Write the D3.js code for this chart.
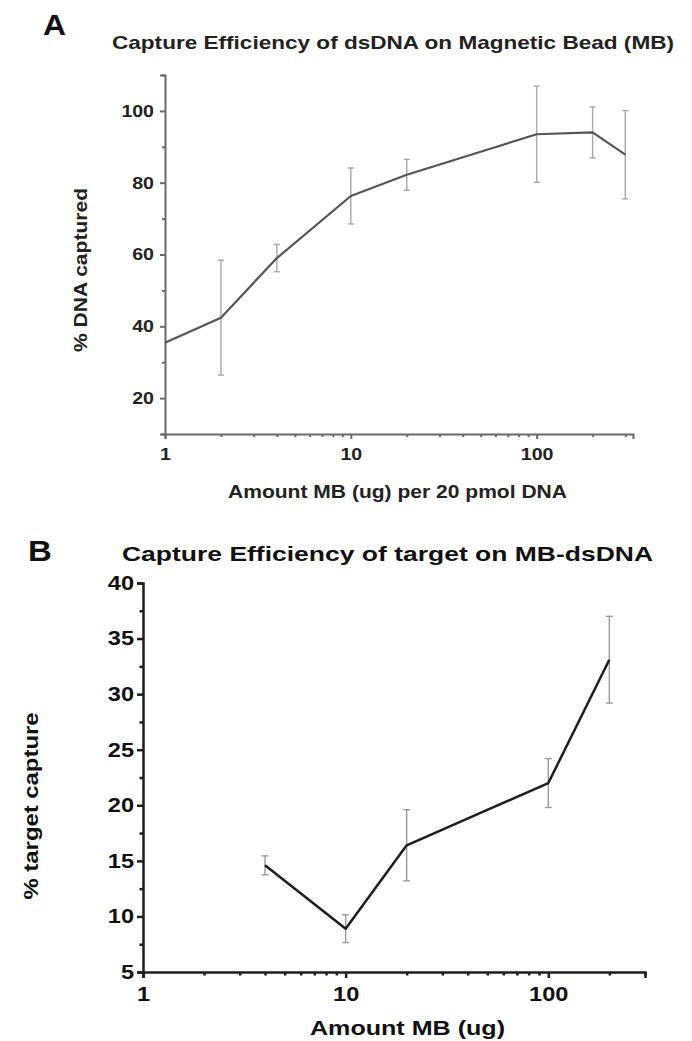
<!DOCTYPE html>
<html>
<head>
<meta charset="utf-8">
<script src="https://cdn.jsdelivr.net/npm/d3@7"></script>
<style>
    body { margin: 0; background: #fff; }
    svg { display: block; font-family: "Liberation Sans", Arial, sans-serif; font-weight: bold; }
</style>
</head>
<body>
<div class="container"></div>
<script>
// panel A: capture of dsDNA on magnetic beads
const A_X = [1, 2, 4, 10, 20, 100, 200, 300];
const A_Y = [35.4, 42.4, 59.0, 76.3, 82.2, 93.5, 94.0, 87.8];
const A_ERR = [0, 16.0, 3.8, 7.8, 4.3, 13.4, 7.1, 12.3];
const A_YTICKS = [20, 40, 60, 80, 100];
const A_YMINOR = [10, 30, 50, 70, 90, 110];
const A_XTICKS = [1, 10, 100];

// panel B: capture of target on MB-dsDNA
const B_X = [4, 10, 20, 100, 200];
const B_Y = [14.6, 8.9, 16.4, 22.0, 33.1];
const B_ERR = [0.85, 1.25, 3.2, 2.2, 3.9];
const B_YTICKS = [5, 10, 15, 20, 25, 30, 35, 40];
const B_YMINOR = [7.5, 12.5, 17.5, 22.5, 27.5, 32.5, 37.5];
const B_XTICKS = [1, 10, 100];

const X_MINOR = [2, 3, 4, 5, 6, 7, 8, 9, 20, 30, 40, 50, 60, 70, 80, 90, 200, 300];

const WIDTH = 692;
const HEIGHT = 1041;

const svg = d3.select('.container').append('svg')
    .attr('width', WIDTH)
    .attr('height', HEIGHT);

// widen text horizontally, the source figure is a bit stretched
const stretch = function (sel, k) {
    sel.each(function () {
        let w = this.getComputedTextLength();
        d3.select(this).attr('textLength', w * k).attr('lengthAdjust', 'spacingAndGlyphs');
    });
};

const drawPanel = function (p) {
    let x = d3.scaleLog().domain(p.xDomain).range(p.xRange);
    let y = d3.scaleLinear().domain(p.yDomain).range(p.yRange);
    let pts = p.xs.map((v, i) => ({x: v, y: p.ys[i], e: p.errs[i]}));

    let g = svg.append('g');

    // minor ticks
    g.append('g')
        .attr('transform', `translate(0, ${p.yRange[0]})`)
        .call(d3.axisBottom(x).tickValues(X_MINOR.filter(v => v <= p.xDomain[1])).tickFormat('').tickSizeOuter(0).tickSize(p.minor))
        .classed('minor', true);
    g.append('g')
        .attr('transform', `translate(${p.xRange[0]}, 0)`)
        .call(d3.axisLeft(y).tickValues(p.yMinor).tickFormat('').tickSizeOuter(0).tickSize(p.minor))
        .classed('minor', true);

    let xAxis = g.append('g')
        .attr('transform', `translate(0, ${p.yRange[0]})`)
        .call(d3.axisBottom(x).tickValues(p.xTicks).tickFormat(d3.format('d')).tickSizeOuter(0).tickSize(p.major).tickPadding(p.xPad));
    let yAxis = g.append('g')
        .attr('transform', `translate(${p.xRange[0]}, 0)`)
        .call(d3.axisLeft(y).tickValues(p.yTicks).tickFormat(d3.format('d')).tickSizeOuter(0).tickSize(p.major).tickPadding(p.yPad));

    g.selectAll('.domain, .tick line')
        .attr('stroke', p.axisColor)
        .attr('stroke-width', p.axisWidth);
    g.selectAll('.minor .domain').remove();
    g.selectAll('.tick text')
        .attr('font-family', '"Liberation Sans", Arial, sans-serif')
        .attr('font-weight', 'bold')
        .attr('font-size', p.tickFont)
        .attr('fill', p.textColor);
    stretch(xAxis.selectAll('.tick text'), p.k);
    stretch(yAxis.selectAll('.tick text'), p.k);

    // error bars
    let eb = g.selectAll('.err').data(pts.filter(d => d.e > 0))
        .enter().append('g').classed('err', true)
        .attr('stroke', p.errColor)
        .attr('stroke-width', 1.4);
    eb.append('line')
        .attr('x1', d => x(d.x)).attr('x2', d => x(d.x))
        .attr('y1', d => y(d.y - d.e)).attr('y2', d => y(d.y + d.e));
    eb.append('line')
        .attr('x1', d => x(d.x) - p.cap).attr('x2', d => x(d.x) + p.cap)
        .attr('y1', d => y(d.y + d.e)).attr('y2', d => y(d.y + d.e));
    eb.append('line')
        .attr('x1', d => x(d.x) - p.cap).attr('x2', d => x(d.x) + p.cap)
        .attr('y1', d => y(d.y - d.e)).attr('y2', d => y(d.y - d.e));

    //--line--
    let line = d3.line()
        .x(d => x(d.x))
        .y(d => y(d.y));
    g.append('path')
        .attr('d', line(pts))
        .attr('fill', 'none')
        .attr('stroke', p.lineColor)
        .attr('stroke-width', p.lineWidth)
        .attr('stroke-linejoin', 'round');

    //--labels--
    g.append('text')
        .attr('x', p.letter[0]).attr('y', p.letter[1])
        .attr('font-size', p.letterFont)
        .attr('fill', '#111')
        .text(p.name)
        .call(s => stretch(s, 1.1));

    g.append('text')
        .attr('x', p.title[0]).attr('y', p.title[1])
        .attr('font-size', p.titleFont)
        .attr('fill', p.textColor)
        .attr('textLength', p.title[2]).attr('lengthAdjust', 'spacingAndGlyphs')
        .text(p.titleText);

    g.append('text')
        .attr('x', p.xLabel[0]).attr('y', p.xLabel[1])
        .attr('font-size', p.labelFont)
        .attr('fill', p.textColor)
        .attr('textLength', p.xLabel[2]).attr('lengthAdjust', 'spacingAndGlyphs')
        .text(p.xLabelText);

    g.append('text')
        .attr('text-anchor', 'middle')
        .attr('transform', `translate(${p.yLabel[0]}, ${p.yLabel[1]})rotate(-90)`)
        .attr('font-size', p.labelFont)
        .attr('fill', p.textColor)
        .attr('textLength', p.yLabel[2]).attr('lengthAdjust', 'spacingAndGlyphs')
        .text(p.yLabelText);
};

drawPanel({
    name: 'A',
    xs: A_X, ys: A_Y, errs: A_ERR,
    xTicks: A_XTICKS, yTicks: A_YTICKS, yMinor: A_YMINOR,
    xDomain: [1, 330], xRange: [165, 633],
    yDomain: [10, 110], yRange: [434, 75],
    major: 5, minor: 3, xPad: 9, yPad: 6,
    axisColor: '#6a6a6a', axisWidth: 2,
    lineColor: '#555', lineWidth: 2.2,
    errColor: '#a8a8a8', cap: 3,
    textColor: '#222', tickFont: 17, k: 1.15,
    letter: [43, 35], letterFont: 29,
    titleText: 'Capture Efficiency of dsDNA on Magnetic Bead (MB)',
    title: [112, 49, 562], titleFont: 19,
    xLabelText: 'Amount MB (ug) per 20 pmol DNA',
    xLabel: [228, 498, 339], labelFont: 18,
    yLabelText: '% DNA captured',
    yLabel: [87, 270, 164]
});

drawPanel({
    name: 'B',
    xs: B_X, ys: B_Y, errs: B_ERR,
    xTicks: B_XTICKS, yTicks: B_YTICKS, yMinor: B_YMINOR,
    xDomain: [1, 300], xRange: [143, 645],
    yDomain: [5, 40], yRange: [972, 583],
    major: 6, minor: 3.5, xPad: 9, yPad: 3,
    axisColor: '#1e1e1e', axisWidth: 2.5,
    lineColor: '#1e1e1e', lineWidth: 2.5,
    errColor: '#9a9a9a', cap: 3.5,
    textColor: '#111', tickFont: 20, k: 1.18,
    letter: [28, 561], letterFont: 30,
    titleText: 'Capture Efficiency of target on MB-dsDNA',
    title: [122, 561, 531], titleFont: 21,
    xLabelText: 'Amount MB (ug)',
    xLabel: [310, 1035, 195], labelFont: 21,
    yLabelText: '% target capture',
    yLabel: [38, 806, 187]
});
</script>
</body>
</html>
